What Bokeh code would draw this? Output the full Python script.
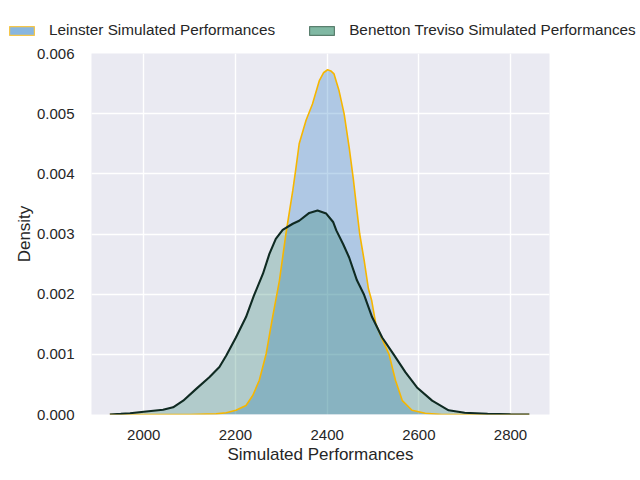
from bokeh.plotting import figure
from bokeh.layouts import column
from bokeh.models import Range1d, Legend, LegendItem, FixedTicker, NumeralTickFormatter
from bokeh.embed import file_html
from bokeh.resources import INLINE

# Leinster simulated performances (KDE)
leinster_x = [1926, 2100, 2158, 2180, 2201, 2223, 2238, 2252, 2267, 2281, 2296, 2310,
              2325, 2332, 2339, 2354, 2368, 2383, 2392, 2401, 2408, 2415, 2426, 2437,
              2448, 2457, 2464, 2471, 2481, 2490, 2497, 2506, 2520, 2535, 2549, 2564,
              2585, 2614, 2650, 2841]
leinster_y = [0.0, 0.0, 0.00001, 0.00003, 0.00007, 0.00015, 0.00032, 0.00057, 0.00101,
              0.00162, 0.00223, 0.00300, 0.00372, 0.00410, 0.00450, 0.00489, 0.00516,
              0.00555, 0.00568, 0.00573, 0.00571, 0.00566, 0.00538, 0.00500, 0.00444,
              0.00392, 0.00345, 0.00300, 0.00255, 0.00209, 0.00190, 0.00151, 0.00125,
              0.00100, 0.00057, 0.00023, 0.00007, 0.00002, 0.0, 0.0]

# Benetton Treviso simulated performances
benetton_x = [1926, 1950, 1970, 2000, 2042, 2064, 2086, 2115, 2143, 2165, 2180, 2201,
              2223, 2240, 2260, 2274, 2288, 2303, 2325, 2339, 2361, 2379, 2398, 2413,
              2420, 2435, 2448, 2465, 2480, 2498, 2520, 2545, 2571, 2596, 2629, 2665,
              2700, 2750, 2800, 2841]
benetton_y = [0.0, 0.00001, 0.00002, 0.000045, 0.00008, 0.00012, 0.00023, 0.00043,
              0.00062, 0.00079, 0.00098, 0.00128, 0.00162, 0.00197, 0.00234, 0.00267,
              0.00292, 0.00307, 0.00317, 0.00322, 0.00335, 0.00339, 0.00334, 0.00320,
              0.00306, 0.00283, 0.00261, 0.00223, 0.00200, 0.00162, 0.00128, 0.00100,
              0.00070, 0.00045, 0.00023, 0.00007, 0.00003, 0.00001, 0.000003, 0.0]

x_ticks = [2000, 2200, 2400, 2600, 2800]
y_ticks = [0.000, 0.001, 0.002, 0.003, 0.004, 0.005, 0.006]
labels = ["Leinster Simulated Performances", "Benetton Treviso Simulated Performances"]

FONT = "Liberation Sans"
TXT = "#262626"

# --- main plot ---
p = figure(frame_width=458, frame_height=361,
           x_range=Range1d(1886, 2885), y_range=Range1d(0, 0.006),
           output_backend="svg", toolbar_location=None,
           min_border_left=91, min_border_right=91, min_border_top=12, min_border_bottom=58,
           background_fill_color="#eaeaf2", border_fill_color="white",
           x_axis_label="Simulated Performances", y_axis_label="Density")
p.outline_line_color = None
p.frame_align = False

p.varea(x=leinster_x, y1=0, y2=leinster_y, fill_color="#2979c3", fill_alpha=0.3)
p.varea(x=benetton_x, y1=0, y2=benetton_y, fill_color="#2f8370", fill_alpha=0.3)
p.line(leinster_x, leinster_y, line_color="#f6b600", line_width=1.6)
p.line(benetton_x, benetton_y, line_color="#0f2a22", line_width=2.1)

for ax in (p.xaxis, p.yaxis):
    ax.axis_line_color = None
    ax.major_tick_line_color = None
    ax.minor_tick_line_color = None
    ax.major_label_text_font = FONT
    ax.major_label_text_font_size = "15px"
    ax.major_label_text_color = TXT
    ax.axis_label_text_font = FONT
    ax.axis_label_text_font_size = "17px"
    ax.axis_label_text_font_style = "normal"
    ax.axis_label_text_color = TXT

p.xaxis.ticker = FixedTicker(ticks=x_ticks)
p.yaxis.ticker = FixedTicker(ticks=y_ticks)
p.yaxis.formatter = NumeralTickFormatter(format="0.000")
p.xaxis.major_label_standoff = 9
p.yaxis.major_label_standoff = 11
p.xaxis.axis_label_standoff = 2
p.yaxis.axis_label_standoff = 0

p.grid.grid_line_color = "white"
p.grid.grid_line_width = 1.4

# --- legend strip above the plot ---
lg = figure(width=640, height=41, min_border=0,
            min_border_left=0, min_border_right=0, min_border_top=0, min_border_bottom=0,
            x_range=Range1d(0, 1), y_range=Range1d(0, 1),
            x_axis_location=None, y_axis_location=None, output_backend="svg",
            toolbar_location=None, background_fill_color="white", border_fill_color="white")
lg.outline_line_color = None
lg.grid.visible = False
lg.frame_align = False
# legend proxies (kept outside the visible range of the strip)
r1 = lg.quad(left=[-2], right=[-1], top=[-1], bottom=[-2],
             fill_color="#88b6df", line_color="#f5c64a", line_width=1.2)
r2 = lg.quad(left=[-2], right=[-1], top=[-1], bottom=[-2],
             fill_color="#80b8a3", line_color="#5a7f6e", line_width=1.2)

legend = Legend(items=[LegendItem(label=labels[0], renderers=[r1]),
                       LegendItem(label=labels[1], renderers=[r2])],
                location=(6, 2), orientation="horizontal",
                glyph_width=31, glyph_height=11, label_standoff=12, spacing=31,
                padding=0, margin=0, border_line_alpha=0, background_fill_alpha=0,
                label_text_font=FONT, label_text_font_size="15.3px",
                label_text_color=TXT, label_height=11)
lg.add_layout(legend)

layout = column(lg, p, spacing=0)
open("out.html", "w").write(file_html(layout, INLINE))
